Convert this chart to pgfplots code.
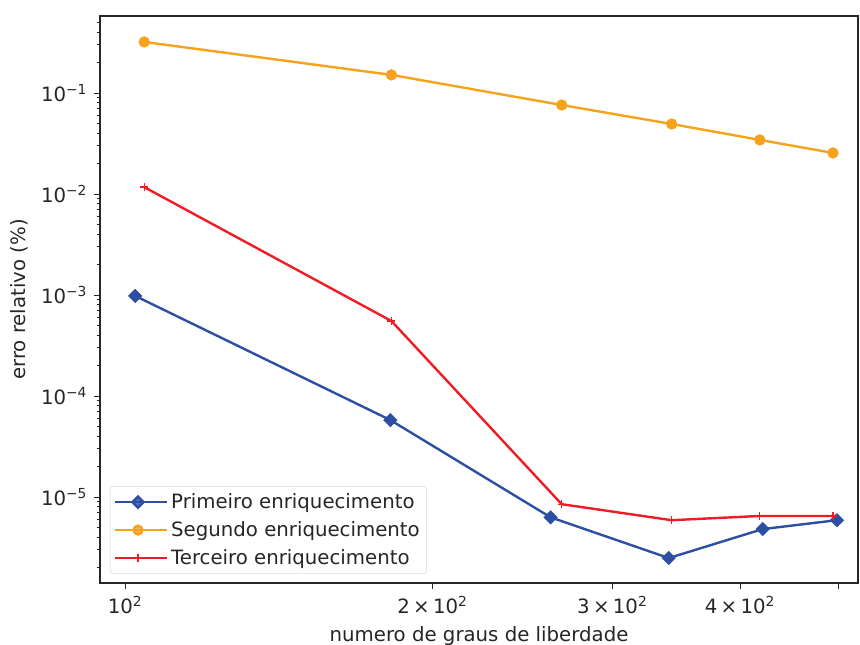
\documentclass[border=0pt]{standalone}
\usepackage{fontspec}
\setmainfont{DejaVu Sans}
\usepackage{pgfplots}
\pgfplotsset{compat=1.18}
\definecolor{cblue}{HTML}{2D4FA3}
\definecolor{corange}{HTML}{F7A21C}
\definecolor{cred}{HTML}{EE1C25}
\definecolor{ctext}{HTML}{262626}
\begin{document}
\fontsize{14.8}{17.5}\selectfont
\begin{tikzpicture}
\begin{axis}[
  name=ax,
  scale only axis,
  width=568.5pt, height=425.25pt,
  xmode=log, ymode=log,
  xmin=94.5, xmax=522,
  ymin=1.41e-6, ymax=0.578,
  axis line style={ctext, line width=0.8pt},
  tick align=outside,
  tick pos=left,
  major tick length=4.5pt,
  minor tick length=2.5pt,
  tick style={ctext, line width=0.7pt},
  xtick={100,200,300,400,500},
  xticklabels={10\textsuperscript{2}, 2\,×\,10\textsuperscript{2}, 3\,×\,10\textsuperscript{2}, 4\,×\,10\textsuperscript{2}, {}},
  minor xtick={},
  ytick={1e-5,1e-4,1e-3,1e-2,1e-1},
  yticklabels={10\textsuperscript{−5},10\textsuperscript{−4},10\textsuperscript{−3},10\textsuperscript{−2},10\textsuperscript{−1}},
  minor ytick={2e-6,3e-6,4e-6,5e-6,6e-6,7e-6,8e-6,9e-6,2e-5,3e-5,4e-5,5e-5,6e-5,7e-5,8e-5,9e-5,2e-4,3e-4,4e-4,5e-4,6e-4,7e-4,8e-4,9e-4,2e-3,3e-3,4e-3,5e-3,6e-3,7e-3,8e-3,9e-3,2e-2,3e-2,4e-2,5e-2,6e-2,7e-2,8e-2,9e-2,0.2,0.3,0.4,0.5},
  ticklabel style={font=\fontsize{14.8}{17.5}\selectfont, text=ctext},
  xlabel={numero de graus de liberdade},
  ylabel={erro relativo (\%)},
  label style={font=\fontsize{14.8}{17.5}\selectfont, text=ctext},
  legend cell align=left,
  legend style={draw=black!15, rounded corners=2pt, fill=white, fill opacity=0.8, text opacity=1, font=\fontsize{14.8}{17.5}\selectfont, text=ctext, at={(0.013,0.016)}, anchor=south west, inner sep=3pt, row sep=3.5pt},
  legend image code/.code={\draw[#1] (0pt,0pt) -- (34pt,0pt); \draw[#1] plot coordinates {(17pt,0pt)}; \path (0pt,0pt) -- (39pt,0pt);},
]
\addplot[cblue, line width=1.8pt, mark=square*, mark size=2.9pt, mark options={rotate=45, cblue, solid}] coordinates {
 (102.3,9.8e-4) (181.9,5.78e-5) (261.0,6.3e-6) (340.7,2.49e-6) (421.1,4.82e-6) (497.7,5.9e-6)};
\addlegendentry{Primeiro enriquecimento}
\addplot[corange, line width=1.8pt, mark=*, mark size=3.3pt, mark options={corange, solid}] coordinates {
 (104.4,0.32) (182.3,0.151) (267.6,0.076) (343.0,0.0493) (418.3,0.0343) (493.3,0.0255)};
\addlegendentry{Segundo enriquecimento}
\addplot[cred, line width=1.8pt, mark=+, mark size=3pt, mark options={cred, solid, line width=1pt}] coordinates {
 (104.4,0.0117) (182.3,5.53e-4) (267.6,8.5e-6) (343.0,5.9e-6) (418.3,6.5e-6) (493.3,6.5e-6)};
\addlegendentry{Terceiro enriquecimento}
\end{axis}
\pgfresetboundingbox
\path ([xshift=-75pt,yshift=-46.5pt]ax.south west) rectangle ([xshift=1.5pt,yshift=12pt]ax.north east);
\end{tikzpicture}
\end{document}
